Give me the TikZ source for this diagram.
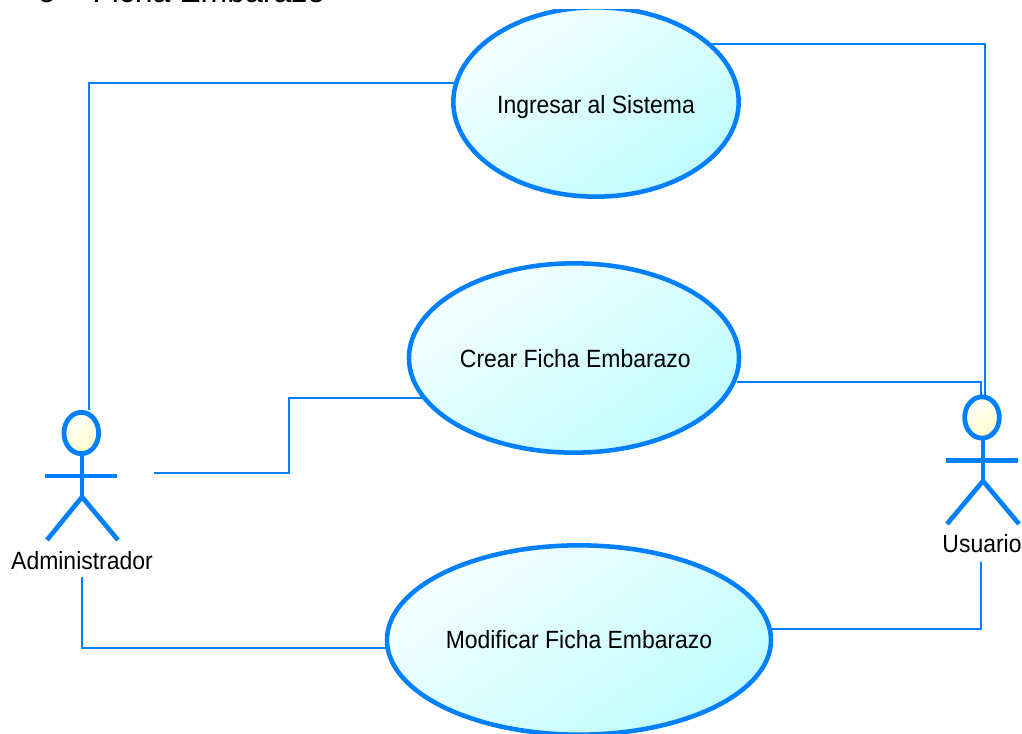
\documentclass[tikz,border=0pt]{standalone}
\usepackage{fontspec}
\setmainfont{Liberation Sans}
\newfontfamily\umlfont[FakeStretch=0.92]{Liberation Sans}
\usepackage{tikz}
\usetikzlibrary{calc,positioning,shapes.geometric}
\definecolor{umlblue}{RGB}{0,128,255}
\definecolor{umlcyan}{RGB}{190,252,255}
\definecolor{umlpale}{RGB}{245,255,255}
\definecolor{umlyellow}{RGB}{255,255,200}
\tikzset{
usecase/.style={
  ellipse,
  draw=umlblue,
  line width=3.4pt,
  shade,
  top color=umlpale,
  bottom color=umlcyan,
  shading angle=35,
  minimum height=142pt,
  inner sep=0pt,
  font=\umlfont\fontsize{18.7}{22}\selectfont
  },
actorhead/.style={
  ellipse,
  draw=umlblue,
  line width=3.6pt,
  shade,
  top color=white,
  bottom color=umlyellow,
  shading angle=35,
  minimum width=26pt,
  minimum height=31pt,
  inner sep=0pt
  },
actorlimb/.style={draw=umlblue,line width=3.5pt},
assoc/.style={draw=umlblue,line width=1.5pt},
actorname/.style={font=\umlfont\fontsize{18.7}{22}\selectfont,inner sep=0pt}
}

\begin{document}
\begin{tikzpicture}[x=0.75pt,y=-0.75pt]
            \useasboundingbox (0,0) rectangle (1022,734);
            \clip (0,0) rectangle (1022,734);
            \node[anchor=base west,inner sep=0pt,font=\fontsize{24}{28}\selectfont] (heading) at (92,3) {Ficha Embarazo};
            \node[left=27pt of heading.base west,anchor=base east,inner sep=0pt,font=\fontsize{24}{28}\selectfont] (bullet) {o};
            % asociaciones
            \coordinate (freeadmin) at (154,473);
            \draw[assoc] (88.5,410) |- (460,83);
            \draw[assoc] (freeadmin) -- (289,473) |- (424,398);
            \draw[assoc] (82,577) |- (392,648);
            \draw[assoc] (709,44) -| (985,396);
            \draw[assoc] (737,382) -| (981,396);
            \draw[assoc] (771,629) -| (981,562);
            % casos de uso
            \begin{scope}
            \clip (400,10) rectangle (800,210);
            \node[usecase,minimum width=214pt,text height=21pt] (ingresar) at (596,102) {Ingresar al Sistema};
            \end{scope}
            \node[usecase,minimum width=247pt,text height=15pt] (crear) at (574,358) {\hspace{2pt}Crear Ficha Embarazo};
            \node[usecase,minimum width=288pt] (modificar) at (579,640) {Modificar Ficha Embarazo};
            % actores
            \coordinate (hipadmin) at (82,497);
            \coordinate (hipusuario) at (983,481);
            \draw[actorlimb] (82,450) -- (hipadmin);
            \draw[actorlimb] (45,476) -- (117,476);
            \draw[actorlimb,line join=round] (47,540) -- (hipadmin) -- (118,540);
            \draw[actorlimb] (983,434) -- (hipusuario);
            \draw[actorlimb] (946,460.3) -- (1018,460.3);
            \draw[actorlimb,line join=round] (947,524) -- (hipusuario) -- (1019,524);
            \node[actorhead] (headadmin) at (81.3,433) {};
            \node[actorhead] (headusuario) at (982,417.5) {};
            \node[actorname] (administrador) at (82,561) {Administrador};
            \node[actorname] (usuario) at (982,544) {Usuario};
        \end{tikzpicture}
\end{document}
